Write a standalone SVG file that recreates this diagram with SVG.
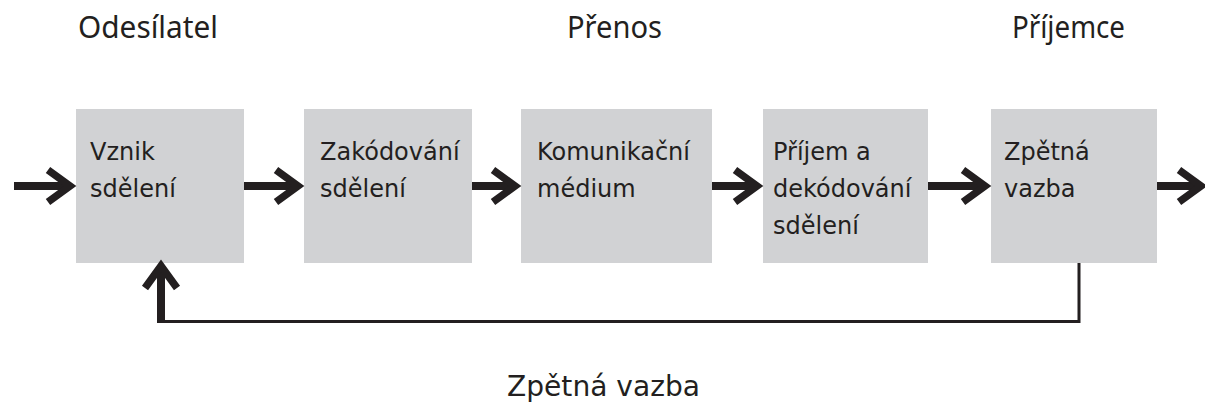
<svg xmlns="http://www.w3.org/2000/svg" width="1205" height="405" viewBox="0 0 1205 405">
<style>
.box{fill:#d1d2d4}
.t{font-family:"DejaVu Sans","Noto Sans",sans-serif;font-size:24px;fill:#231f20}
.h{font-family:"Noto Sans","DejaVu Sans",sans-serif;font-size:31px;fill:#231f20}
.shaft{stroke:#231f20;stroke-width:8;fill:none}
.thin{stroke:#231f20;stroke-width:3;fill:none}
.head{stroke:#231f20;stroke-width:7.5;fill:none;stroke-linejoin:miter;stroke-miterlimit:10}
</style>
<defs>
<path id="hd" class="head" d="M-22,-16 L0,0 L-22,16"/>
</defs>
<rect width="1205" height="405" fill="#fff"/>
<g id="headers">
<text class="h" x="78" y="38" textLength="140" lengthAdjust="spacingAndGlyphs">Odesílatel</text>
<text class="h" x="567" y="38" textLength="95" lengthAdjust="spacingAndGlyphs">Přenos</text>
<text class="h" x="1012" y="38" textLength="113" lengthAdjust="spacingAndGlyphs">Příjemce</text>
</g>
<g id="n1"><rect class="box" x="76" y="109" width="168" height="154"/>
<text class="t" x="90" y="160">Vznik</text><text class="t" x="90" y="197">sdělení</text></g>
<g id="n2"><rect class="box" x="304" y="109" width="168" height="154"/>
<text class="t" x="320" y="160">Zakódování</text><text class="t" x="320" y="197">sdělení</text></g>
<g id="n3"><rect class="box" x="521" y="109" width="191" height="154"/>
<text class="t" x="537" y="160">Komunikační</text><text class="t" x="537" y="197">médium</text></g>
<g id="n4"><rect class="box" x="763" y="109" width="165" height="154"/>
<text class="t" x="773" y="160">Příjem a</text><text class="t" x="773" y="197">dekódování</text><text class="t" x="773" y="234">sdělení</text></g>
<g id="n5"><rect class="box" x="991" y="109" width="166" height="154"/>
<text class="t" x="1004" y="160">Zpětná</text><text class="t" x="1004" y="197">vazba</text></g>
<g id="connectors">
<line class="shaft" x1="14" y1="186" x2="68" y2="186"/><use href="#hd" transform="translate(70,186)"/>
<line class="shaft" x1="244" y1="186" x2="296" y2="186"/><use href="#hd" transform="translate(298,186)"/>
<line class="shaft" x1="472" y1="186" x2="513" y2="186"/><use href="#hd" transform="translate(515,186)"/>
<line class="shaft" x1="712" y1="186" x2="755" y2="186"/><use href="#hd" transform="translate(757,186)"/>
<line class="shaft" x1="928" y1="186" x2="983" y2="186"/><use href="#hd" transform="translate(985,186)"/>
<line class="shaft" x1="1157" y1="186" x2="1198" y2="186"/><use href="#hd" transform="translate(1201,186)"/>
<polyline class="thin" points="1079,263 1079,321.5 161,321.5"/>
<line class="shaft" x1="161" y1="323" x2="161" y2="270"/><use href="#hd" transform="translate(161,266) rotate(-90)"/>
</g>
<g id="feedback-label">
<text class="t" x="507" y="396" style="font-size:29px" textLength="193" lengthAdjust="spacingAndGlyphs">Zpětná vazba</text>
</g>
</svg>
